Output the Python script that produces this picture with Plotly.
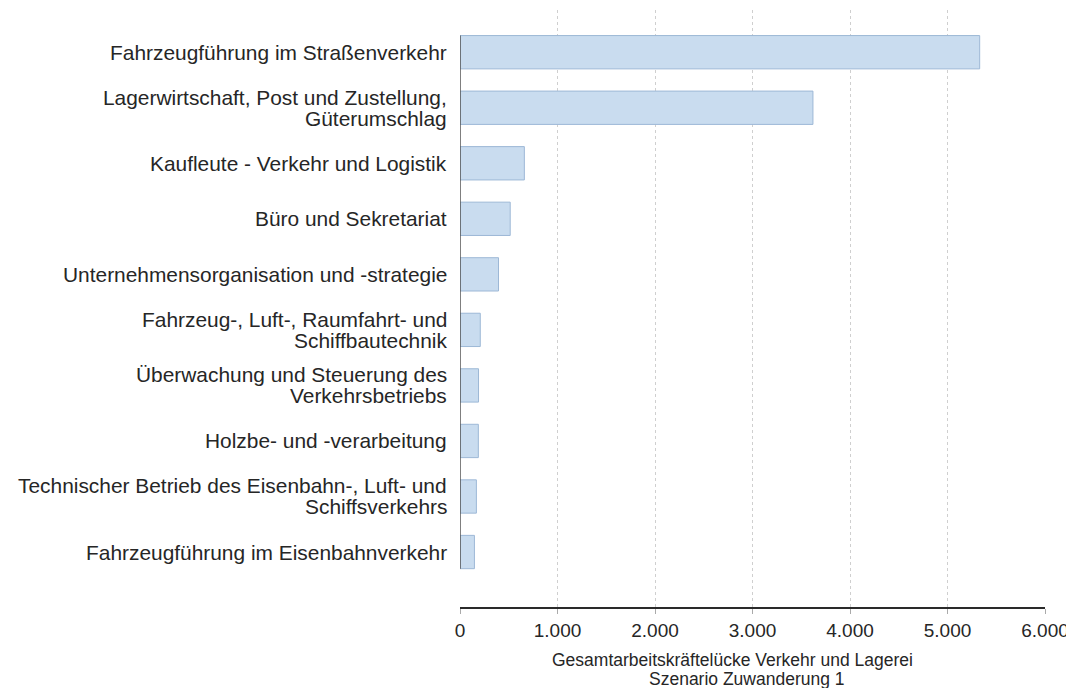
import plotly.graph_objects as go

# categories top to bottom (lines of each label split on <br>)
categories = [
    'Fahrzeugführung im Straßenverkehr',
    'Lagerwirtschaft, Post und Zustellung,<br>Güterumschlag',
    'Kaufleute - Verkehr und Logistik',
    'Büro und Sekretariat',
    'Unternehmensorganisation und -strategie',
    'Fahrzeug-, Luft-, Raumfahrt- und<br>Schiffbautechnik',
    'Überwachung und Steuerung des<br>Verkehrsbetriebs',
    'Holzbe- und -verarbeitung',
    'Technischer Betrieb des Eisenbahn-, Luft- und<br>Schiffsverkehrs',
    'Fahrzeugführung im Eisenbahnverkehr',
]
values = [5330, 3620, 660, 515, 395, 208, 190, 188, 168, 148]

tick_vals = [0, 1000, 2000, 3000, 4000, 5000, 6000]
tick_text = ['0', '1.000', '2.000', '3.000', '4.000', '5.000', '6.000']

x_title_lines = ['Gesamtarbeitskräftelücke Verkehr und Lagerei', 'Szenario Zuwanderung 1']

FONT = 'Liberation Sans, Arial, sans-serif'
TEXT_COLOR = '#262626'

fig = go.Figure()
fig.add_trace(
    go.Bar(
        x=values, y=categories, orientation='h',
        marker=dict(color='#c9dcef', line=dict(color='#9db8d6', width=1)),
        width=0.6,
        showlegend=False,
    )
)

n = len(categories)
# y axis line only spans the category bars
fig.add_shape(
    type='line', xref='x', yref='y',
    x0=0, x1=0, y0=-0.3, y1=n - 1 + 0.3,
    line=dict(color='#555555', width=1.5),
)

# category labels as annotations, tighter line spacing than plotly ticks
line_gap = 21
for cat in categories:
    parts = cat.split('<br>')
    for i, part in enumerate(parts):
        shift = (len(parts) - 1) / 2 * line_gap - i * line_gap
        fig.add_annotation(
            x=0, xref='x domain', y=cat, yref='y',
            text=part, showarrow=False,
            xanchor='right', yanchor='middle', xshift=-11, yshift=shift,
            font=dict(size=20.9, color=TEXT_COLOR, family=FONT),
        )

# x axis title, two lines
for i, (line, cx) in enumerate(zip(x_title_lines, [0.465, 0.491])):
    fig.add_annotation(
        x=cx, xref='x domain', y=0, yref='y domain',
        text=line, showarrow=False,
        xanchor='center', yanchor='middle', yshift=-53 - i * 19,
        font=dict(size=17.5, color=TEXT_COLOR, family=FONT),
    )

fig.update_xaxes(
    range=[0, 6000], automargin=False,
    tickvals=tick_vals, ticktext=tick_text,
    showgrid=True, gridcolor='#cfcfcf', griddash='dot', gridwidth=1,
    zeroline=False,
    showline=True, linecolor='#2a2a2a', linewidth=1.5,
    ticks='outside', ticklen=5, tickcolor='#aaaaaa',
    tickfont=dict(size=19, color=TEXT_COLOR, family=FONT),
)
fig.update_yaxes(
    categoryorder='array', categoryarray=categories,
    range=[n - 1 + 0.99, -0.76], automargin=False,
    showgrid=False, zeroline=False, showline=False,
    ticks='', showticklabels=False,
)

# page body adds an 8px offset; shrink the figure so it fits the window
fig.update_layout(
    width=1066, height=680,
    margin=dict(l=452, r=29, t=2, b=81),
    plot_bgcolor='white', paper_bgcolor='white',
    font=dict(family=FONT, color=TEXT_COLOR),
    bargap=0.4,
)

fig.write_html('out.html')
